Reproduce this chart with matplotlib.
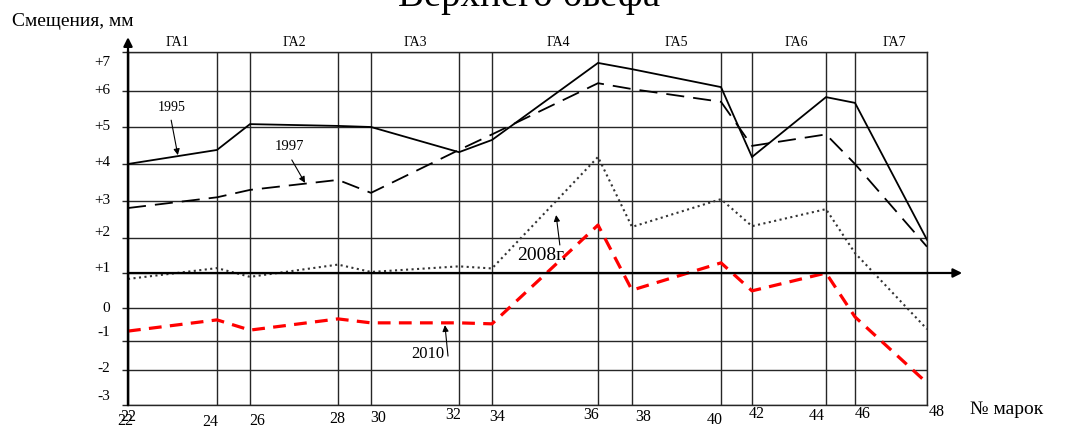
import numpy as np
import matplotlib
matplotlib.use("Agg")
import matplotlib.pyplot as plt
from matplotlib.transforms import offset_copy

plt.rcParams['font.family'] = ['Liberation Serif', 'DejaVu Serif']

# Mark numbers along the dam crest and displacement levels, mm
marks = [22, 24, 26, 28, 30, 32, 34, 36, 38, 40, 42, 44, 46, 48]
levels = [-3, -2, -1, 0, 1, 2, 3, 4, 5, 6, 7]
level_labels = ['-3', '-2', '-1', '0', '+1', '+2', '+3', '+4', '+5', '+6', '+7']

# Displacements by survey year, mm
d1995 = [4.0, 4.38, 5.08, 5.03, 5.0, 4.32, 4.65, 6.72, 6.56, 6.1, 4.19, 5.83, 5.67, 1.95]
d1997 = [2.81, 3.1, 3.3, 3.57, 3.22, 4.38, 4.8, 6.2, 6.05, 5.7, 4.49, 4.8, 4.0, 1.75]
d2008 = [0.83, 1.14, 0.89, 1.24, 1.03, 1.19, 1.13, 4.19, 2.3, 3.05, 2.32, 2.78, 1.57, -0.64]
d2010 = [-0.7, -0.36, -0.67, -0.33, -0.45, -0.45, -0.48, 2.35, 0.51, 1.29, 0.49, 1.0, -0.27, -2.37]

# Hydro-unit sections above the grid
units = ['ГА1', 'ГА2', 'ГА3', 'ГА4', 'ГА5', 'ГА6', 'ГА7']
unit_x = [23.1, 27.0, 31.0, 35.25, 39.0, 43.2, 47.1]

# The drawing is not evenly spaced: where each mark / level sits on the sheet
mark_px = [128, 217, 250, 338, 371, 459, 492, 598, 632, 721, 752, 826, 855, 927]
level_px = [24, 59, 88, 121, 156, 191, 228, 265, 302, 338, 377]

W, H = 1072, 429
fig = plt.figure(figsize=(W / 100, H / 100), dpi=100)
ax = fig.add_axes([128 / W, 24 / H, (927 - 128) / W, (377 - 24) / H])

ax.set_xscale('function', functions=(lambda x: np.interp(x, marks, mark_px),
                                     lambda p: np.interp(p, mark_px, marks)))
ax.set_yscale('function', functions=(lambda v: np.interp(v, levels, level_px),
                                     lambda p: np.interp(p, level_px, levels)))
ax.set_xlim(22, 48)
ax.set_ylim(-3, 7)

grid_c = '#262626'
ax.set_xticks(marks)
ax.set_yticks(levels)
ax.set_xticklabels([])
ax.set_yticklabels([])
ax.tick_params(axis='x', length=0)
ax.tick_params(axis='y', direction='out', length=4, width=1.0, color=grid_c)
ax.grid(True, color=grid_c, lw=1.0)
for s in ax.spines.values():
    s.set_color(grid_c)
    s.set_linewidth(1.0)
ax.spines['left'].set_color('k')
ax.spines['left'].set_linewidth(1.6)

# Axes with arrows
ax.annotate('', xy=(1.044, 1), xycoords=ax.get_yaxis_transform(),
            xytext=(0, 1), textcoords=ax.get_yaxis_transform(),
            arrowprops=dict(arrowstyle='-|>', color='k', lw=1.6, mutation_scale=13,
                            shrinkA=0, shrinkB=0))
ax.annotate('', xy=(0, 1.042), xycoords='axes fraction',
            xytext=(0, 0), textcoords='axes fraction',
            arrowprops=dict(arrowstyle='-|>', color='k', lw=1.6, mutation_scale=13,
                            shrinkA=0, shrinkB=0))

# Series
ax.plot(marks, d1995, color='k', lw=1.3, solid_joinstyle='miter')
ax.plot(marks, d1997, color='k', lw=1.3, dashes=(10, 5))
ax.plot(marks, d2008, color='#333333', lw=1.5, linestyle=':')
ax.plot(marks, d2010, color='#ff0000', lw=2.3, dashes=(4, 2.6))

# Series labels with pointers
arrow = dict(arrowstyle='-|>', color='k', lw=0.8, mutation_scale=9, shrinkA=0, shrinkB=0)
ax.annotate('', xy=(23.12, 4.24), xytext=(22.97, 5.19), arrowprops=arrow)
ax.text(22.99, 5.53, '1995', fontsize=10, ha='center', va='center')
ax.annotate('', xy=(27.25, 3.49), xytext=(26.95, 4.11), arrowprops=arrow)
ax.text(26.89, 4.46, '1997', fontsize=10.5, ha='center', va='center')
ax.annotate('', xy=(35.21, 2.62), xytext=(35.28, 1.8), arrowprops=arrow)
ax.text(34.95, 1.49, '2008г.', fontsize=14, ha='center', va='center')
ax.annotate('', xy=(31.68, -0.52), xytext=(31.75, -1.52), arrowprops=arrow)
ax.text(31.3, -1.45, '2010', fontsize=12, ha='center', va='center')

# Tick labels, slightly scattered as on the sheet
x_dx = [0, -7, 7, -1, 7, -6, 5, -7, 11, -6, 5, -9, 8, 10]
x_dy = [-12, -17, -16, -14, -13, -10, -12, -10, -12, -15, -9, -11, -9, -7]
xt = ax.get_xaxis_transform()
for m, dx, dy in zip(marks, x_dx, x_dy):
    ax.text(m, 0, str(m), fontsize=11.5, ha='center', va='center',
            transform=offset_copy(xt, fig=fig, x=dx, y=dy, units='dots'))
ax.text(22, 0, '22', fontsize=11.5, ha='center', va='center',
        transform=offset_copy(xt, fig=fig, x=-3, y=-16, units='dots'))

y_dy = [8, 2, 8, 0, 4, 5, 1, 1, 0, 1, -11]
yt = ax.get_yaxis_transform()
for v, lab, dy in zip(levels, level_labels, y_dy):
    ax.text(0, v, lab, fontsize=11, ha='right', va='center',
            transform=offset_copy(yt, fig=fig, x=-18, y=dy, units='dots'))

for name, x in zip(units, unit_x):
    ax.text(x, 1, name, fontsize=10, ha='center', va='center',
            transform=offset_copy(xt, fig=fig, x=0, y=10, units='dots'))

fig.text(12 / W, 1 - 21 / H, 'Смещения, мм', fontsize=14, ha='left', va='center')
fig.text(970 / W, 1 - 410 / H, '№ марок', fontsize=14, ha='left', va='center')
fig.text(398 / W, 1 - 6 / H, 'Верхнего бьефа', fontsize=28, ha='left', va='baseline')

fig.savefig('out.png', dpi=100)
